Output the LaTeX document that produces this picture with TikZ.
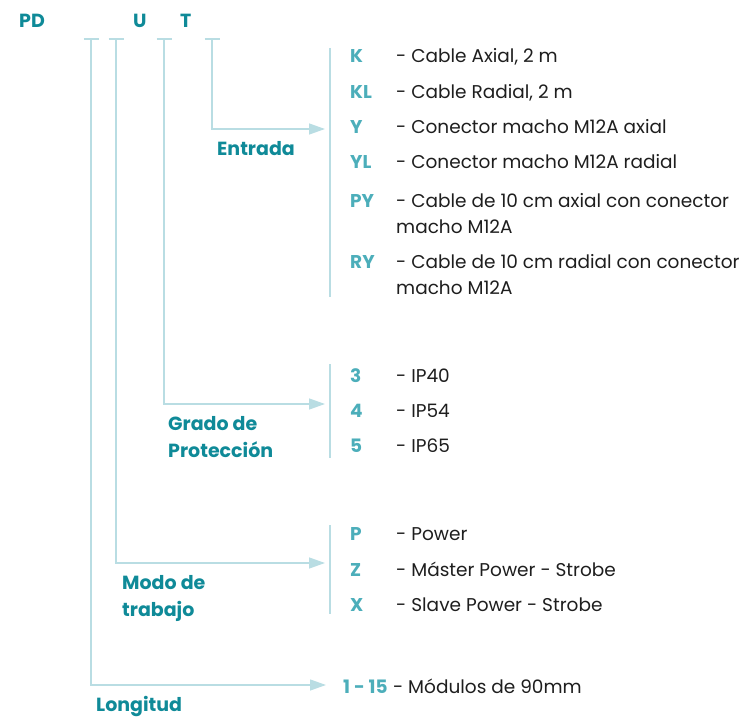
\documentclass[tikz,border=0pt]{standalone}
\usepackage{fontspec}
\setmainfont{Poppins}
\usetikzlibrary{arrows.meta}
\definecolor{tituloazul}{HTML}{0F8A98}
\definecolor{codigoazul}{HTML}{4CAEBA}
\definecolor{lineaazul}{HTML}{B9DDE3}
\definecolor{textogris}{HTML}{1E1E1E}
\begin{document}
\begin{tikzpicture}[x=1pt,y=-1pt,
    titulo/.style={anchor=base west, inner sep=0pt, align=left,
      font=\fontsize{19}{27}\selectfont\bfseries, text=tituloazul},
    codigo/.style={anchor=base west, inner sep=0pt,
      font=\fontsize{18.5}{26}\selectfont\bfseries, text=codigoazul},
    opcion/.style={anchor=base west, inner sep=0pt, align=left,
      font=\fontsize{18.5}{26}\selectfont, text=textogris},
    linea/.style={draw=lineaazul, line width=1.3pt},
    flecha/.style={linea, -{Triangle[length=16pt,width=11pt]}}]
  \useasboundingbox (0,0) rectangle (740,717);

  % Cabecera del codigo
  \node[titulo] (pd) at (19,28) {PD};
  \node[titulo] (u) at (133,28) {U};
  \node[titulo] (t) at (180,28) {T};

  % Puntos de partida (bajo la cabecera)
  \coordinate (longitud) at (91,39);
  \coordinate (modo) at (116,39);
  \coordinate (grado) at (164,39);
  \coordinate (entrada) at (212,39);
  \foreach \c in {longitud,modo,grado,entrada}
    \draw[linea] (\c) ++(-7.5,0) -- ++(15,0);

  % Puntas de las flechas
  \coordinate (pentrada) at (325,129);
  \coordinate (pgrado) at (325,404);
  \coordinate (pmodo) at (325,563);
  \coordinate (plongitud) at (326,685);

  \draw[flecha] (entrada) |- (pentrada);
  \draw[flecha] (grado) |- (pgrado);
  \draw[flecha] (modo) |- (pmodo);
  \draw[flecha] (longitud) |- (plongitud);

  % Corchetes de cada grupo
  \draw[linea] (330,48) -- (330,297);
  \draw[linea] (330,364) -- (330,458);
  \draw[linea] (330,525) -- (330,614);

  % Entrada (los nodos de dos lineas van por la base de la ultima)
  \node[titulo] (tentrada) at (217,156) {Entrada};
  \node[codigo] (k) at (350,63) {K};
  \node[opcion] (ok) at (396,63) {- Cable Axial, 2 m};
  \node[codigo] (kl) at (350,99) {KL};
  \node[opcion] (okl) at (396,99) {- Cable Radial, 2 m};
  \node[codigo] (y) at (350,134) {Y};
  \node[opcion] (oy) at (396,134) {- Conector macho M12A axial};
  \node[codigo] (yl) at (350,168) {YL};
  \node[opcion] (oyl) at (396,168) {- Conector macho M12A radial};
  \node[codigo] (py) at (350,207) {PY};
  \node[opcion] (opy) at (396,233) {- Cable de 10 cm axial con conector\\macho M12A};
  \node[codigo] (ry) at (350,268) {RY};
  \node[opcion] (ory) at (396,294) {- Cable de 10 cm radial con conector\\macho M12A};

  % Grado de proteccion
  \node[titulo] (tgrado) at (168,457) {Grado de\\Protección};
  \node[codigo] (g3) at (350,382) {3};
  \node[opcion] (og3) at (396,382) {- IP40};
  \node[codigo] (g4) at (350,417) {4};
  \node[opcion] (og4) at (396,417) {- IP54};
  \node[codigo] (g5) at (350,452) {5};
  \node[opcion] (og5) at (396,452) {- IP65};

  % Modo de trabajo
  \node[titulo] (tmodo) at (122,616) {Modo de\\trabajo};
  \node[codigo] (mp) at (350,540) {P};
  \node[opcion] (omp) at (396,540) {- Power};
  \node[codigo] (mz) at (350,576) {Z};
  \node[opcion] (omz) at (396,576) {- Máster Power - Strobe};
  \node[codigo] (mx) at (350,611) {X};
  \node[opcion] (omx) at (396,611) {- Slave Power - Strobe};

  % Longitud
  \node[titulo] (tlongitud) at (96,711) {Longitud};
  \node[codigo] (l115) at (343,693) {1 - 15};
  \node[opcion, anchor=base west] (ol115) at ([xshift=5pt]l115.base east) {- Módulos de 90mm};
\end{tikzpicture}
\end{document}
